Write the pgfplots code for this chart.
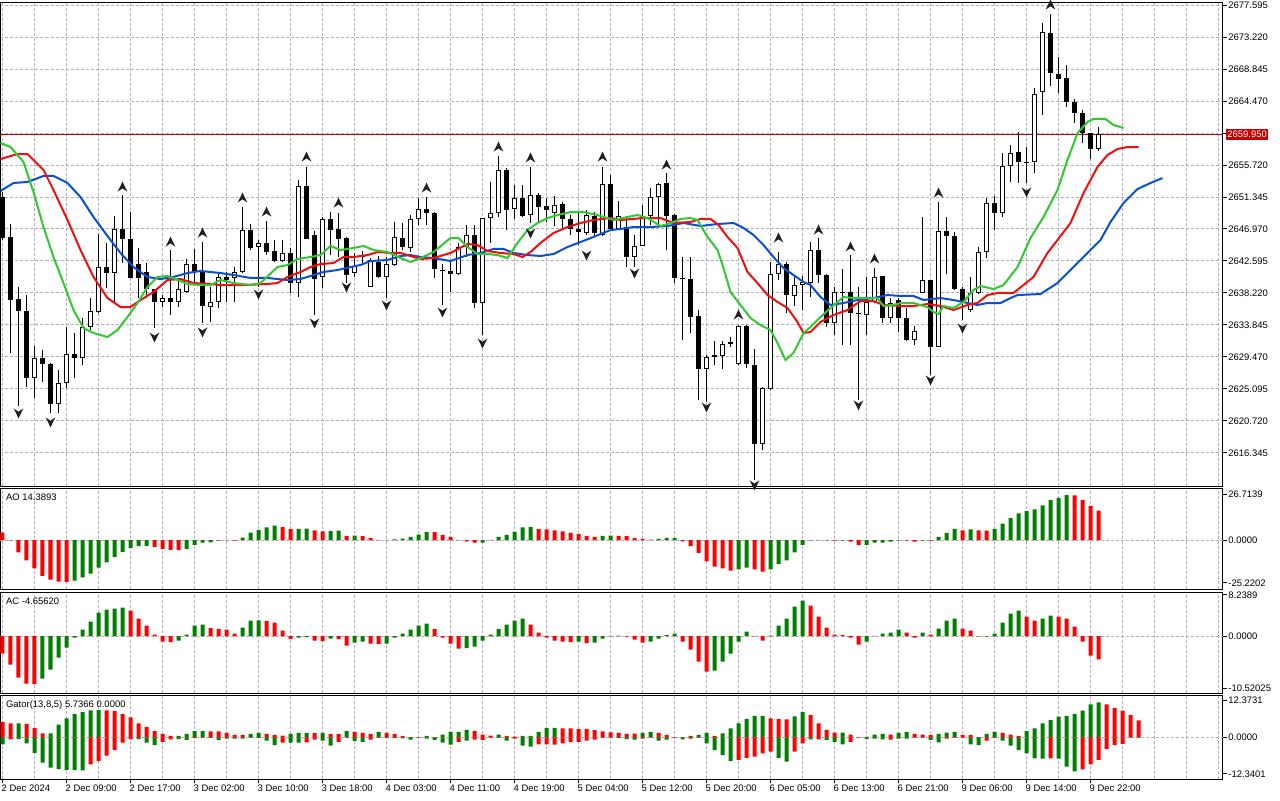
\documentclass[border=0pt]{standalone}
\usepackage{fontspec}
\setmainfont{Liberation Sans}
\usepackage{pgfplots}
\usepackage{pgfplotstable}
\pgfplotsset{compat=1.18}

\definecolor{jaw}{RGB}{10,80,215}
\definecolor{teeth}{RGB}{240,15,15}
\definecolor{lips}{RGB}{50,200,50}
\definecolor{gup}{RGB}{0,128,0}
\definecolor{rdn}{RGB}{255,0,0}
\definecolor{gridc}{RGB}{182,175,196}
\definecolor{pricebox}{RGB}{200,0,0}
\definecolor{fract}{RGB}{30,30,30}
\newcommand{\lab}{\fontsize{7.1}{8}\selectfont}

\pgfdeclareplotmark{fup}{%
  \pgfpathmoveto{\pgfqpoint{0pt}{4pt}}%
  \pgfpathlineto{\pgfqpoint{3.6pt}{-3.4pt}}%
  \pgfpathlineto{\pgfqpoint{0pt}{-1.0pt}}%
  \pgfpathlineto{\pgfqpoint{-3.6pt}{-3.4pt}}%
  \pgfpathclose\pgfusepathqfill}
\pgfdeclareplotmark{fdn}{%
  \pgfpathmoveto{\pgfqpoint{0pt}{-4pt}}%
  \pgfpathlineto{\pgfqpoint{3.6pt}{3.4pt}}%
  \pgfpathlineto{\pgfqpoint{0pt}{1.0pt}}%
  \pgfpathlineto{\pgfqpoint{-3.6pt}{3.4pt}}%
  \pgfpathclose\pgfusepathqfill}

\pgfplotstableread{
i o h l c
0 2651.34 2652.03 2645.47 2645.74
1 2645.88 2647.65 2630.02 2637.26
2 2637.40 2639.04 2622.77 2635.76
3 2635.76 2637.94 2625.37 2626.60
4 2626.60 2630.97 2623.86 2629.33
5 2629.33 2630.42 2626.05 2628.51
6 2628.51 2628.65 2621.81 2623.04
7 2623.04 2627.69 2621.81 2625.91
8 2625.91 2633.57 2625.23 2629.88
9 2629.88 2632.75 2626.60 2629.33
10 2629.33 2634.80 2628.37 2633.57
11 2633.57 2637.53 2633.16 2635.76
12 2635.62 2646.29 2635.48 2641.77
13 2641.77 2645.06 2638.90 2640.95
14 2640.95 2648.75 2636.85 2646.97
15 2646.97 2651.62 2642.32 2645.60
16 2645.60 2649.29 2640.27 2640.27
17 2642.18 2644.37 2637.53 2640.27
18 2641.09 2642.32 2637.53 2638.76
19 2638.76 2638.76 2633.43 2636.99
20 2636.99 2637.94 2636.30 2637.53
21 2637.53 2644.10 2635.21 2636.99
22 2636.99 2640.27 2636.30 2638.76
23 2638.35 2642.87 2638.22 2642.18
24 2642.18 2644.24 2639.58 2641.09
25 2641.09 2645.19 2634.12 2636.44
26 2636.30 2639.04 2634.25 2636.99
27 2636.99 2640.95 2636.17 2640.41
28 2640.41 2641.09 2636.99 2640.00
29 2640.27 2641.77 2636.99 2641.09
30 2641.09 2649.98 2640.95 2646.83
31 2646.83 2647.65 2644.10 2644.37
32 2644.51 2645.47 2639.04 2645.06
33 2645.06 2648.06 2643.41 2643.82
34 2643.96 2645.47 2642.46 2642.59
35 2642.59 2645.47 2642.46 2643.69
36 2643.69 2644.37 2638.22 2639.58
37 2639.58 2653.67 2637.67 2652.85
38 2652.85 2655.45 2645.60 2645.60
39 2646.15 2646.70 2635.21 2640.13
40 2640.41 2648.61 2638.90 2648.34
41 2648.34 2649.29 2643.41 2646.83
42 2646.97 2649.16 2643.14 2645.60
43 2645.74 2645.88 2639.58 2640.68
44 2640.95 2643.69 2640.41 2641.91
45 2643.14 2643.96 2642.32 2643.41
46 2639.04 2643.00 2639.04 2642.73
47 2642.46 2643.28 2640.27 2640.41
48 2640.41 2643.14 2637.53 2642.18
49 2642.05 2647.93 2641.91 2645.88
50 2645.74 2647.79 2644.10 2644.51
51 2644.37 2648.88 2643.82 2648.34
52 2648.34 2651.21 2647.52 2649.70
53 2649.70 2651.34 2647.52 2649.16
54 2649.16 2649.29 2640.27 2641.50
55 2641.36 2642.18 2636.58 2641.23
56 2641.23 2642.59 2638.35 2640.82
57 2640.82 2645.06 2640.68 2644.51
58 2644.51 2647.52 2643.14 2646.15
59 2646.15 2647.52 2636.17 2636.85
60 2636.85 2648.47 2632.48 2648.47
61 2648.47 2653.40 2645.06 2649.16
62 2649.16 2656.95 2648.61 2655.04
63 2655.04 2655.31 2646.83 2649.57
64 2649.70 2652.99 2648.34 2651.21
65 2651.21 2652.99 2648.61 2648.75
66 2648.88 2655.45 2647.79 2651.62
67 2651.62 2651.89 2647.79 2649.98
68 2650.11 2651.21 2647.93 2649.57
69 2649.16 2651.48 2647.38 2650.25
70 2650.39 2650.66 2647.11 2648.34
71 2648.34 2648.88 2646.15 2646.97
72 2646.97 2649.29 2644.78 2646.56
73 2646.42 2649.57 2646.15 2648.88
74 2648.75 2649.29 2646.01 2646.42
75 2646.15 2655.45 2646.01 2653.12
76 2653.12 2654.35 2646.83 2646.97
77 2646.97 2650.80 2646.83 2648.75
78 2647.24 2648.75 2641.77 2643.14
79 2643.14 2646.15 2641.77 2644.65
80 2644.65 2650.25 2644.65 2648.75
81 2648.75 2652.57 2647.52 2651.34
82 2651.34 2653.26 2647.52 2653.12
83 2653.26 2654.63 2644.10 2648.75
84 2648.88 2649.02 2639.58 2640.27
85 2640.27 2643.14 2631.79 2640.13
86 2640.13 2643.14 2632.75 2634.94
87 2635.07 2635.89 2623.59 2627.83
88 2627.83 2629.74 2623.32 2629.47
89 2629.74 2631.66 2628.37 2629.47
90 2629.60 2631.66 2627.83 2631.25
91 2631.25 2632.20 2630.84 2631.52
92 2628.51 2633.84 2628.37 2633.71
93 2633.71 2633.84 2627.96 2628.51
94 2628.37 2630.56 2612.65 2617.57
95 2617.57 2625.37 2616.75 2625.23
96 2625.09 2642.46 2624.95 2640.82
97 2640.82 2643.82 2640.00 2642.18
98 2642.18 2642.46 2635.48 2637.94
99 2637.81 2640.54 2636.44 2639.31
100 2639.31 2640.54 2635.89 2639.72
101 2639.58 2645.19 2637.67 2644.10
102 2644.10 2645.74 2639.58 2640.68
103 2640.68 2640.82 2633.57 2634.12
104 2634.12 2639.04 2632.48 2638.35
105 2638.35 2641.50 2631.11 2638.22
106 2638.35 2643.41 2631.11 2635.48
107 2635.48 2639.04 2623.59 2635.35
108 2635.21 2640.41 2632.48 2636.99
109 2636.99 2641.64 2636.85 2640.41
110 2640.54 2640.54 2634.12 2634.80
111 2634.80 2637.53 2634.12 2636.85
112 2637.26 2637.53 2632.89 2634.80
113 2634.80 2636.17 2631.66 2631.79
114 2631.79 2633.71 2631.11 2633.02
115 2638.22 2648.61 2638.22 2640.00
116 2640.00 2640.00 2627.01 2630.84
117 2630.84 2650.66 2630.84 2646.70
118 2646.70 2648.61 2640.82 2646.01
119 2646.01 2646.56 2638.63 2638.76
120 2638.76 2639.04 2634.53 2636.99
121 2635.89 2640.41 2635.62 2638.22
122 2638.22 2644.51 2638.08 2643.82
123 2643.82 2651.21 2643.00 2650.52
124 2650.52 2651.48 2646.83 2649.16
125 2649.16 2657.36 2648.61 2655.58
126 2655.58 2658.45 2653.40 2657.36
127 2657.50 2660.23 2653.26 2656.13
128 2656.13 2658.18 2653.26 2655.99
129 2656.13 2666.25 2654.63 2665.43
130 2665.70 2675.14 2662.56 2673.90
131 2673.77 2676.37 2666.52 2668.30
132 2668.16 2670.49 2665.56 2667.48
133 2667.61 2669.39 2663.65 2664.33
134 2664.33 2664.74 2661.46 2662.83
135 2662.83 2663.24 2658.73 2660.09
136 2660.09 2660.09 2656.54 2657.91
137 2657.91 2660.91 2657.63 2659.95
}\candles

\pgfplotstableread{
i p
-0.25 2658.73
1 2658.18
2.625 2656.13
3.875 2652.03
5.125 2647.24
6.375 2643.14
7.625 2639.58
8.875 2635.89
10.125 2633.43
11.375 2632.75
13.125 2632.20
14.375 2633.16
15.625 2634.94
16.875 2636.85
18.125 2639.04
19.375 2640.41
20.625 2640.54
21.875 2640.00
23.125 2639.45
24.75 2639.31
26 2639.31
27.25 2640.00
28.875 2639.58
31 2639.31
32.25 2639.58
34.375 2641.77
35.625 2642.05
36.875 2642.87
38.5 2643.14
39.75 2643.41
41 2644.65
42.25 2644.10
43.875 2644.37
45.125 2644.65
46.375 2644.10
48.125 2643.82
49.75 2643.00
51 2642.46
52.25 2643.00
53.875 2643.82
56 2645.74
57 2645.74
58.125 2644.51
59.375 2643.55
60.625 2643.55
61.875 2643.41
63.125 2643.00
64.375 2645.06
65.625 2646.83
66.875 2647.79
68.125 2648.47
69.375 2648.88
71 2649.29
72.625 2649.29
74.375 2648.88
76.375 2648.20
78.125 2648.61
79.375 2648.88
80.625 2648.47
82.25 2647.38
83.5 2647.79
84.75 2648.34
86 2648.47
86.875 2648.20
88.125 2645.88
89.375 2644.10
90.125 2641.64
91 2638.35
92.25 2636.58
93.5 2634.80
94.75 2633.84
96 2633.16
96.875 2631.38
97.875 2629.06
98.875 2630.02
100.125 2632.75
101 2633.57
102.25 2634.94
103.5 2636.17
105.125 2637.67
106.375 2637.53
108.125 2637.53
109.375 2637.53
110.125 2636.44
111.375 2636.58
112.25 2636.85
113.875 2636.85
115.625 2636.30
116.375 2635.62
117 2635.35
117.625 2636.44
118.875 2636.17
120.125 2636.99
121.375 2638.63
122.25 2639.17
123.875 2638.76
125.125 2639.31
126.875 2641.77
128.5 2645.74
130.125 2648.61
131.875 2652.30
133.125 2656.40
134.375 2660.09
135.625 2661.60
136.375 2662.01
137.875 2662.01
138.875 2661.19
140.125 2660.78
}\lipsT

\pgfplotstableread{
i p
-0.25 2656.54
1.875 2657.22
3.125 2657.22
5.125 2655.04
6.375 2652.30
8.125 2648.20
9.75 2644.10
11.375 2640.41
13.125 2637.53
14.75 2636.30
16 2636.30
17.25 2637.26
18.875 2638.35
20.625 2640.00
22.25 2640.13
23.875 2639.58
26 2639.45
27.25 2639.31
30.125 2639.31
33.125 2639.45
34.375 2639.58
35.625 2640.41
37.25 2641.09
38.5 2641.77
39.75 2642.18
41.375 2642.32
42.625 2643.14
43.875 2643.14
45.625 2643.41
46.875 2643.82
48.5 2643.69
49.75 2643.69
51 2643.28
52.25 2642.87
53.875 2643.00
56 2643.69
58.125 2644.92
59.375 2644.78
60.625 2643.96
62.25 2643.69
63.875 2643.55
65 2643.14
66 2643.82
67.25 2645.06
68.875 2646.42
70.625 2647.24
72.25 2647.79
73.875 2648.20
76 2648.47
77.25 2648.20
80.125 2648.47
82.25 2648.47
83.875 2647.79
86 2647.93
87.25 2648.34
88.5 2648.34
89.5 2647.52
90.625 2645.88
91.875 2644.37
93.125 2641.09
94.375 2639.58
95.625 2637.94
96.875 2636.99
98.125 2636.17
99.375 2634.25
100.125 2632.75
101 2632.89
102.25 2634.25
103.875 2635.21
105.625 2635.89
107.25 2637.12
108.875 2637.12
110.125 2636.58
112.25 2636.44
113.875 2636.44
115.625 2636.71
117.25 2636.44
118.875 2635.89
120.625 2636.58
121.875 2636.85
123.125 2637.94
124.375 2638.22
126.375 2638.22
128.875 2640.41
130.625 2643.69
131.875 2645.47
133.5 2647.79
135.125 2651.89
136.875 2655.45
138.125 2657.09
139.375 2657.91
140.625 2658.18
142 2658.18
}\teethT

\pgfplotstableread{
i p
-0.25 2652.17
1.375 2653.26
3.125 2653.40
5.125 2654.22
6.375 2654.22
8.125 2653.26
9.75 2651.34
11.375 2648.61
13.125 2646.01
14.75 2643.69
16.375 2641.77
18.125 2640.41
19.75 2640.13
21.375 2640.41
23.125 2640.95
24.75 2641.23
26 2641.09
27.25 2640.95
28.875 2640.68
31 2640.27
33.125 2640.27
35.625 2640.00
37.25 2640.13
38.5 2640.54
40.125 2641.09
41.875 2641.36
43.5 2641.77
44.75 2642.05
46 2642.59
48.125 2642.73
49.75 2643.28
51 2643.41
52.25 2643.14
53.875 2643.00
56 2642.59
58.125 2643.41
59.75 2643.69
61.375 2644.24
62.625 2644.24
63.875 2643.69
65.625 2643.41
67.25 2643.28
68.875 2643.55
70.625 2644.51
72.25 2645.19
73.875 2645.88
76 2646.83
77.25 2646.97
78.875 2647.24
81 2647.24
83.125 2647.38
85.125 2647.79
87.25 2647.38
89.375 2647.65
91.375 2647.79
92.625 2647.11
93.875 2646.15
95.125 2644.78
96.375 2643.14
97.625 2641.64
98.875 2640.68
100.125 2639.72
101 2639.31
102.25 2637.67
103.5 2636.58
105.125 2636.85
106.875 2637.26
108.875 2637.53
110.625 2637.94
112.25 2637.81
113.875 2637.81
115.125 2637.26
117.25 2637.53
118.875 2637.26
120.625 2636.85
121.875 2636.58
123.125 2636.85
124.75 2636.85
126 2637.53
126.875 2637.94
129.75 2638.08
131.875 2639.58
133.875 2641.77
136 2644.10
137.25 2645.47
138.5 2647.93
140.125 2650.52
141.875 2652.44
143.5 2653.26
145 2653.94
}\jawT

\pgfplotstableread{
i p
15 2652.71
21 2645.19
25 2646.42
30 2651.21
33 2649.29
38 2656.81
42 2650.52
53 2652.57
62 2658.18
66 2656.68
75 2656.81
83 2655.72
92 2635.21
97 2645.74
102 2646.83
106 2644.51
109 2642.87
117 2651.89
131 2677.60
}\fupT

\pgfplotstableread{
i p
2 2621.81
6 2620.58
19 2632.20
25 2632.89
32 2638.08
39 2634.12
43 2639.04
48 2636.58
55 2635.62
60 2631.38
66 2646.42
73 2643.41
79 2640.95
88 2622.63
94 2611.97
107 2622.91
116 2626.32
120 2633.43
128 2652.03
}\fdnT

\pgfplotstableread{
i v g
0 4.4 0
1 -0.2 0
2 -7.2 0
3 -12.0 0
4 -16.6 0
5 -21.0 0
6 -23.2 0
7 -24.4 0
8 -24.6 0
9 -23.8 1
10 -22.0 1
11 -19.8 1
12 -16.2 1
13 -13.2 1
14 -10.0 1
15 -7.0 1
16 -4.6 1
17 -3.6 1
18 -3.4 1
19 -4.0 0
20 -5.2 0
21 -5.8 0
22 -5.9 0
23 -5.2 1
24 -2.8 1
25 -1.6 1
26 -1.4 1
27 -0.3 1
28 0.1 1
29 -0.3 0
30 1.4 1
31 4.4 1
32 6.0 1
33 7.4 1
34 8.4 1
35 7.6 0
36 6.4 0
37 6.6 1
38 6.7 1
39 5.6 0
40 5.0 0
41 5.4 1
42 5.5 1
43 2.4 0
44 2.6 1
45 2.3 0
46 1.3 0
47 0.1 0
48 0.15 1
49 0.4 1
50 0.8 1
51 1.8 1
52 3.2 1
53 4.8 1
54 4.7 0
55 3.0 0
56 1.8 0
57 0.1 0
58 -0.8 0
59 -1.6 0
60 -1.5 1
61 0.1 1
62 1.8 1
63 3.0 1
64 4.8 1
65 7.4 1
66 7.5 1
67 6.4 0
68 6.2 0
69 5.6 0
70 5.0 0
71 4.2 0
72 3.4 0
73 2.4 0
74 1.8 0
75 2.4 1
76 2.5 1
77 2.4 0
78 2.3 0
79 1.2 0
80 0.6 0
81 0.2 0
82 0.6 1
83 1.2 1
84 1.3 1
85 -0.8 0
86 -3.6 0
87 -7.6 0
88 -12.6 0
89 -15.6 0
90 -16.6 0
91 -18.0 0
92 -17.2 1
93 -16.2 1
94 -17.2 0
95 -18.6 0
96 -17.2 1
97 -14.2 1
98 -12.0 1
99 -7.2 1
100 -2.8 1
101 -0.2 1
102 0.1 1
103 -0.2 0
104 -0.4 0
105 -0.3 1
106 -1.0 0
107 -3.0 0
108 -2.9 1
109 -1.6 1
110 -1.5 1
111 -1.0 1
112 -0.2 1
113 -0.4 0
114 -1.0 0
115 -0.3 1
116 -0.4 0
117 1.8 1
118 4.2 1
119 6.6 1
120 5.6 0
121 6.2 1
122 5.6 0
123 5.5 0
124 6.6 1
125 9.6 1
126 12.8 1
127 15.6 1
128 17.0 1
129 18.0 1
130 20.4 1
131 23.4 1
132 24.8 1
133 26.4 1
134 26.2 0
135 23.4 0
136 20.0 0
137 17.2 0
}\aoT

\pgfplotstableread{
i v g
0 -3.5 0
1 -5.7 0
2 -8.3 0
3 -9.5 0
4 -9.6 0
5 -8.5 1
6 -6.7 1
7 -4.3 1
8 -2.3 1
9 -0.3 1
10 1.3 1
11 2.9 1
12 4.7 1
13 5.3 1
14 5.5 1
15 5.7 1
16 5.1 0
17 3.5 0
18 2.1 0
19 0.3 0
20 -1.1 0
21 -1.2 0
22 -0.9 1
23 0.3 1
24 2.1 1
25 2.3 1
26 1.6 0
27 1.4 0
28 1.3 0
29 0.5 0
30 1.7 1
31 3.1 1
32 3.15 1
33 3.0 0
34 2.7 0
35 1.1 0
36 -0.6 0
37 -0.3 1
38 -0.2 1
39 -0.9 0
40 -1.0 0
41 -0.5 1
42 -0.6 0
43 -1.9 0
44 -1.3 1
45 -1.1 1
46 -1.5 0
47 -1.6 0
48 -1.5 1
49 -0.3 1
50 0.5 1
51 1.3 1
52 2.1 1
53 2.5 1
54 1.4 0
55 -0.3 0
56 -1.5 0
57 -2.5 0
58 -2.4 1
59 -2.1 1
60 -0.9 1
61 0.3 1
62 1.4 1
63 2.3 1
64 3.1 1
65 3.5 1
66 2.3 0
67 0.7 0
68 -0.3 0
69 -0.9 0
70 -1.1 0
71 -1.2 0
72 -1.1 1
73 -1.4 0
74 -1.3 1
75 -0.5 1
76 0.05 1
77 0.1 1
78 -0.1 0
79 -0.7 0
80 -1.3 0
81 -1.1 1
82 -0.5 1
83 0.2 1
84 0.5 1
85 -1.1 0
86 -2.7 0
87 -5.1 0
88 -7.1 0
89 -6.9 1
90 -5.1 1
91 -3.5 1
92 -1.1 1
93 0.9 1
94 -0.05 0
95 -0.9 0
96 0.1 1
97 2.1 1
98 3.5 1
99 5.9 1
100 7.1 1
101 6.1 0
102 3.9 0
103 1.7 0
104 0.3 0
105 0.2 0
106 -0.3 0
107 -1.7 0
108 -1.1 1
109 0.05 1
110 0.5 1
111 0.7 1
112 1.3 1
113 0.7 0
114 -0.3 0
115 0.7 1
116 0.3 0
117 1.5 1
118 3.1 1
119 3.5 1
120 1.5 0
121 1.1 0
122 -0.05 0
123 -0.1 0
124 0.5 1
125 2.7 1
126 4.5 1
127 5.1 1
128 3.9 0
129 3.1 0
130 3.5 1
131 4.1 1
132 3.9 0
133 3.5 0
134 1.9 0
135 -1.1 0
136 -3.9 0
137 -4.66 0
}\acT

\pgfplotstableread{
i u ug d dg
0 5.1 0 -2.4 1
1 4.7 0 -0.7 0
2 4.7 1 -0.6 1
3 4.5 0 -2.0 1
4 3.1 0 -5.2 1
5 1.3 0 -8.5 1
6 1.35 1 -10.2 1
7 4.3 1 -10.7 1
8 6.4 1 -11.0 1
9 7.8 1 -11.05 1
10 8.5 1 -11.1 1
11 9.1 1 -9.1 0
12 9.15 1 -7.9 0
13 9.1 0 -6.2 0
14 8.8 0 -4.3 0
15 7.8 0 -1.8 0
16 6.7 0 -0.7 0
17 4.7 0 -0.6 1
18 3.4 0 -1.8 1
19 2.1 0 -2.6 1
20 1.1 0 -1.5 0
21 0.45 0 -0.7 0
22 0.5 1 -0.6 1
23 1.2 1 -0.9 1
24 2.1 1 -0.2 0
25 2.1 1 -0.1 0
26 2.0 0 -0.2 1
27 2.0 0 -0.9 1
28 1.5 0 -0.45 1
29 0.8 0 -0.45 1
30 0.8 0 -0.45 1
31 1.2 1 -0.1 1
32 1.5 1 -0.2 1
33 1.2 0 -1.1 1
34 0.8 0 -2.6 1
35 0.6 0 -1.8 0
36 1.2 1 -1.8 1
37 1.5 1 -1.8 1
38 1.5 1 -1.7 0
39 1.45 0 -0.8 0
40 1.5 1 -1.1 1
41 1.1 0 -2.8 1
42 1.1 0 -1.5 0
43 2.1 1 -0.1 0
44 1.8 0 -1.2 1
45 1.5 0 -1.5 1
46 1.2 0 -0.8 0
47 1.8 1 -0.1 0
48 1.5 0 -0.2 1
49 1.1 0 -0.3 1
50 0.45 0 -0.35 1
51 0.05 0 -0.8 1
52 0.05 1 -0.1 0
53 0.45 1 -0.45 1
54 0.1 0 -0.9 1
55 0.9 1 -1.8 1
56 1.8 1 -2.5 1
57 1.8 1 -1.5 0
58 2.5 1 -1.1 1
59 2.2 0 -0.8 0
60 0.9 0 -0.9 0
61 0.55 0 -0.1 0
62 0.9 1 -0.2 1
63 0.45 0 -1.1 1
64 0.2 0 -0.45 0
65 0.45 1 -2.8 1
66 0.5 1 -3.1 1
67 1.8 1 -2.4 0
68 3.1 1 -2.4 0
69 3.15 1 -2.5 0
70 3.0 0 -2.0 0
71 3.0 0 -1.6 0
72 2.8 0 -1.5 0
73 2.8 0 -1.1 0
74 2.4 0 -0.8 0
75 2.0 0 -0.1 1
76 1.7 0 0 1
77 1.5 0 -0.3 1
78 1.2 0 -0.6 1
79 1.25 0 -0.8 1
80 1.5 1 -0.45 0
81 1.8 1 0 1
82 1.5 0 -1.1 1
83 0.8 0 -0.8 1
84 0.1 0 -0.1 1
85 0.1 0 -0.7 1
86 0.45 1 -0.45 0
87 0.8 1 -0.1 1
88 1.5 1 -2.0 1
89 0.45 0 -4.3 1
90 1.35 1 -6.0 1
91 3.0 1 -7.9 1
92 4.7 1 -7.6 0
93 6.2 1 -6.9 0
94 7.2 1 -6.5 0
95 7.2 1 -5.4 0
96 6.4 0 -4.8 0
97 6.1 0 -6.9 1
98 6.05 0 -8.2 1
99 7.1 1 -4.8 0
100 8.5 1 -2.0 0
101 7.5 0 -0.7 1
102 4.7 0 -0.7 0
103 2.5 0 -0.9 1
104 1.6 0 -1.5 1
105 1.6 1 -2.4 1
106 0.9 0 -1.5 0
107 0.1 0 -0.1 0
108 0.15 1 -0.6 1
109 0.9 1 -0.45 1
110 1.2 1 -0.7 1
111 0.9 0 -0.8 0
112 1.5 1 -0.45 1
113 1.8 1 -0.45 1
114 1.2 0 -0.1 0
115 0.9 0 -0.1 0
116 0.85 0 -0.9 1
117 1.2 1 -1.7 1
118 1.6 1 -0.45 0
119 1.8 1 -0.1 0
120 0.8 0 -0.1 0
121 0.8 0 -2.4 1
122 0.1 0 -2.6 1
123 1.2 1 -1.1 0
124 1.8 1 -0.1 0
125 1.5 0 -1.1 1
126 0.9 0 -2.8 1
127 0.45 0 -4.3 1
128 2.1 1 -5.4 1
129 3.0 1 -7.1 1
130 4.7 1 -7.2 1
131 5.8 1 -7.1 0
132 7.0 1 -7.2 1
133 7.2 1 -9.9 1
134 7.9 1 -11.5 1
135 9.0 1 -10.8 0
136 11.1 1 -9.1 0
137 11.8 1 -7.6 0
138 11.1 0 -4.0 0
139 9.8 0 -2.6 0
140 9.0 0 -2.2 0
141 7.5 0 0 0
142 5.74 0 0 0
}\gatorT

\pgfplotsset{
  mtbase/.style={
    scale only axis, width=916.5pt, xmin=-0.25, xmax=152.5,
    axis line style={black, line width=0.75pt},
    grid style={gridc, line width=0.75pt, dash pattern=on 2.25pt off 1.5pt},
    xmajorgrids,
    xtick={0,4,...,152}, xticklabels={},
    xtick style={draw=none},
    tick align=outside,
    ytick pos=right, yticklabel pos=right,
    major tick length=3pt, minor tick length=0pt,
    ytick style={black, line width=0.75pt},
    tick label style={font=\lab, text=black},
    yticklabel style={anchor=west, inner sep=0pt, xshift=1.2pt},
    scaled y ticks=false,
    anchor=north west,
  },
  hbar/.style={ybar, bar width=3pt, bar shift=0pt, draw=none, fill=#1},
}

\begin{document}
\begin{tikzpicture}
\path[use as bounding box, fill=white] (0,0) rectangle (960pt,-600pt);

% ---------------- main price panel
\begin{axis}[mtbase, name=main, at={(0.375pt,-1.5pt)}, height=363pt,
  ymin=2611.829, ymax=2678.007, ymajorgrids,
  ytick={2616.345,2620.720,2625.095,2629.470,2633.845,2638.220,2642.595,2646.970,2651.345,2655.720,2660.095,2664.470,2668.845,2673.220,2677.595},
  yticklabels={2616.345,2620.720,2625.095,2629.470,2633.845,2638.220,2642.595,2646.970,2651.345,2655.720,{},2664.470,2668.845,2673.220,2677.595}]
\addplot[pricebox, line width=0.75pt, forget plot] coordinates {(-0.25,2659.95) (152.5,2659.95)};
% wicks
\addplot[draw=none, mark=none, forget plot, error bars/.cd, y dir=plus, y explicit, error mark=none,
  error bar style={draw=black, solid, line width=0.75pt}]
  table[x=i, y=l, y error plus expr={\thisrow{h}-\thisrow{l}}] {\candles};
% bear bodies
\addplot[draw=none, mark=none, forget plot, error bars/.cd, y dir=plus, y explicit, error mark=none,
  error bar style={draw=black, solid, line width=3.75pt}]
  table[x=i, y=c, y error plus expr={max(\thisrow{o}-\thisrow{c},0)}] {\candles};
% bull bodies (outline + white interior)
\addplot[draw=none, mark=none, forget plot, error bars/.cd, y dir=plus, y explicit, error mark=none,
  error bar style={draw=black, solid, line width=3.75pt}]
  table[x=i, y=o, y error plus expr={max(\thisrow{c}-\thisrow{o},0)}] {\candles};
\addplot[draw=none, mark=none, forget plot, error bars/.cd, y dir=plus, y explicit, error mark=none,
  error bar style={draw=white, solid, line width=2.25pt}]
  table[x=i, y expr={\thisrow{o}+0.137}, y error plus expr={max(\thisrow{c}-\thisrow{o}-0.274,0)}] {\candles};
% alligator
\addplot[jaw, line width=1.5pt, mark=none] table[x=i, y=p] {\jawT};
\addplot[teeth, line width=1.5pt, mark=none] table[x=i, y=p] {\teethT};
\addplot[lips, line width=1.5pt, mark=none] table[x=i, y=p] {\lipsT};
% fractals
\addplot[only marks, mark=fup, fract] table[x=i, y=p] {\fupT};
\addplot[only marks, mark=fdn, fract] table[x=i, y=p] {\fdnT};
\coordinate (pz) at (axis cs:152.5,2659.95);
\end{axis}
\node[fill=pricebox, text=white, font=\lab, inner sep=1.2pt, anchor=west, minimum height=8.25pt] at ([xshift=2.2pt]pz) {2659.950};

% ---------------- AO
\begin{axis}[mtbase, name=ao, at={(0.375pt,-366pt)}, height=75.75pt,
  ymin=-28.76, ymax=30.52,
  ytick={-25.2202,26.7139}, yticklabels={-25.2202,26.7139},
  extra y ticks={0}, extra y tick labels={0.0000}, extra y tick style={grid=major}]
\addplot[hbar=gup] table[x=i, y expr={\thisrow{g}*\thisrow{v}}] {\aoT};
\addplot[hbar=rdn] table[x=i, y expr={(1-\thisrow{g})*\thisrow{v}}] {\aoT};
\end{axis}
\node[anchor=north west, inner sep=0pt, font=\lab] at ([xshift=4pt,yshift=-4pt]ao.north west) {AO 14.3893};

% ---------------- AC
\begin{axis}[mtbase, name=ac, at={(0.375pt,-444pt)}, height=75.75pt,
  ymin=-11.4, ymax=8.8,
  ytick={-10.52025,8.2389}, yticklabels={-10.52025,8.2389},
  extra y ticks={0}, extra y tick labels={0.0000}, extra y tick style={grid=major}]
\addplot[hbar=gup] table[x=i, y expr={\thisrow{g}*\thisrow{v}}] {\acT};
\addplot[hbar=rdn] table[x=i, y expr={(1-\thisrow{g})*\thisrow{v}}] {\acT};
\end{axis}
\node[anchor=north west, inner sep=0pt, font=\lab] at ([xshift=4pt,yshift=-4pt]ac.north west) {AC -4.65620};

% ---------------- Gator
\begin{axis}[mtbase, name=gator, at={(0.375pt,-521.25pt)}, height=63pt,
  ymin=-14.05, ymax=14.26,
  xtick={0,8,...,136},
  minor xtick={4,12,20,28,36,44,52,60,68,76,84,92,100,108,116,124,132,140,144,148,152},
  xminorgrids, minor grid style={gridc, line width=0.75pt, dash pattern=on 2.25pt off 1.5pt},
  xtick style={draw=black, line width=0.75pt}, xtick pos=left,
  xticklabels={2 Dec 2024,2 Dec 09:00,2 Dec 17:00,3 Dec 02:00,3 Dec 10:00,3 Dec 18:00,4 Dec 03:00,4 Dec 11:00,4 Dec 19:00,5 Dec 04:00,5 Dec 12:00,5 Dec 20:00,6 Dec 05:00,6 Dec 13:00,6 Dec 21:00,9 Dec 06:00,9 Dec 14:00,9 Dec 22:00},
  xticklabel style={anchor=north west, inner sep=0pt, xshift=-0.8pt, yshift=-1.2pt},
  ytick={-12.3401,12.3731}, yticklabels={-12.3401,12.3731},
  extra y ticks={0}, extra y tick labels={0.0000}, extra y tick style={grid=major}]
\addplot[hbar=gup] table[x=i, y expr={\thisrow{ug}*\thisrow{u}}] {\gatorT};
\addplot[hbar=rdn] table[x=i, y expr={(1-\thisrow{ug})*\thisrow{u}}] {\gatorT};
\addplot[hbar=gup] table[x=i, y expr={\thisrow{dg}*\thisrow{d}}] {\gatorT};
\addplot[hbar=rdn] table[x=i, y expr={(1-\thisrow{dg})*\thisrow{d}}] {\gatorT};
\end{axis}
\node[anchor=north west, inner sep=0pt, font=\lab] at ([xshift=4pt,yshift=-4pt]gator.north west) {Gator(13,8,5) 5.7366 0.0000};
\end{tikzpicture}
\end{document}
